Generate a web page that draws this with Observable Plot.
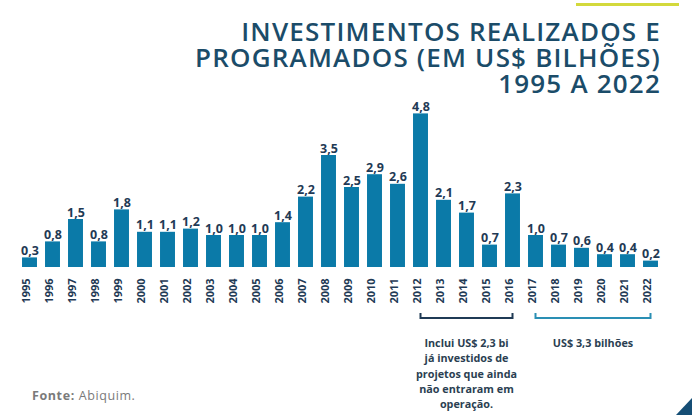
<!DOCTYPE html>
<html><head><meta charset="utf-8">
<script src="https://cdn.jsdelivr.net/npm/d3@7"></script>
<script src="https://cdn.jsdelivr.net/npm/@observablehq/plot@0.6"></script>
<style>
body{margin:0;background:#fff;}
#wrap{position:relative;width:692px;height:415px;overflow:hidden;font-family:"Open Sans",sans-serif;}
.tl{position:absolute;right:31px;text-align:right;color:#1b4c69;font-family:"Open Sans",sans-serif;font-size:26px;line-height:25px;height:25px;font-weight:600;letter-spacing:1.2px;white-space:nowrap;}
#bar{position:absolute;left:576px;top:3px;width:103px;height:3px;background:#d3d93c;}
#fonte{position:absolute;left:32px;top:388px;font-size:12.5px;line-height:15px;color:#7a7a7a;letter-spacing:0.6px;}
#tri{position:absolute;left:0;top:0;}
#chart{position:absolute;left:0;top:0;}
</style></head>
<body><div id="wrap">
<div id="chart"></div>
<div id="bar"></div>
<div class="tl" style="top:19px">INVESTIMENTOS REALIZADOS E</div>
<div class="tl" style="top:45px">PROGRAMADOS (EM US$ BILHÕES)</div>
<div class="tl" style="top:71px">1995 A 2022</div>
<div id="fonte"><b>Fonte:</b> Abiquim.</div>
<svg id="tri" width="692" height="415"><polygon points="676,415 692,398 692,415" fill="#154e75"/></svg>
</div>
<script>
const years = [1995,1996,1997,1998,1999,2000,2001,2002,2003,2004,2005,2006,2007,2008,2009,2010,2011,2012,2013,2014,2015,2016,2017,2018,2019,2020,2021,2022];
const values = [0.3,0.8,1.5,0.8,1.8,1.1,1.1,1.2,1.0,1.0,1.0,1.4,2.2,3.5,2.5,2.9,2.6,4.8,2.1,1.7,0.7,2.3,1.0,0.7,0.6,0.4,0.4,0.2];
const bracketFrom = [2012, 2017];
const bracketTo = [2016, 2022];
const bracketColors = ["#1f3a55", "#2a8fb4"];
const bracketLabels = [
  ["Inclui US$ 2,3 bi","já investidos de","projetos que ainda","não entraram em","operação."],
  ["US$ 3,3 bilhões"]
];

const data = years.map((y,i)=>({year:y, value:values[i]}));
const fmt = v => v.toFixed(1).replace(".", ",");
const half = 0.325;

const brackets = (index, scales, vals, dims) => {
  const ns = "http://www.w3.org/2000/svg";
  const g = document.createElementNS(ns, "g");
  const y0 = scales.y(0);
  bracketFrom.forEach((f,i) => {
    const xa = scales.x(f), xb = scales.x(bracketTo[i]);
    const top = y0 + 46, bot = y0 + 51;
    const p = document.createElementNS(ns, "path");
    p.setAttribute("d", `M${xa},${top}V${bot}H${xb}V${top}`);
    p.setAttribute("fill","none");
    p.setAttribute("stroke", bracketColors[i]);
    p.setAttribute("stroke-width", 2);
    g.appendChild(p);
    const cx = (xa+xb)/2;
    bracketLabels[i].forEach((line,j) => {
      const t = document.createElementNS(ns, "text");
      t.setAttribute("x", cx);
      t.setAttribute("y", y0 + 80 + j*15.3);
      t.setAttribute("text-anchor","middle");
      t.setAttribute("font-size", 10.8);
      t.setAttribute("font-weight", "bold");
      t.setAttribute("fill", "#2b3f52");
      t.setAttribute("font-family", "Open Sans, sans-serif");
      t.textContent = line;
      g.appendChild(t);
    });
  });
  return g;
};

const chart = Plot.plot({
  width: 692,
  height: 415,
  marginLeft: 18,
  marginRight: 30,
  marginTop: 107,
  marginBottom: 148,
  x: {domain: [1994.5, 2022.5], axis: null},
  y: {domain: [0, 5], axis: null},
  style: {fontFamily: "Open Sans, sans-serif", background: "transparent"},
  marks: [
    Plot.rectY(data, {x1: d => d.year - half, x2: d => d.year + half, y: "value", fill: "#0b7aa8"}),
    Plot.text(data, {x: "year", y: "value", text: d => fmt(d.value), lineAnchor: "bottom", dy: -3, fontSize: 12.5, fontWeight: "bold", fill: "#1f3a55"}),
    Plot.text(years, {x: d => d, frameAnchor: "bottom", dy: 36, rotate: -90, textAnchor: "start", text: d => String(d), fontSize: 11, fontWeight: "bold", fill: "#1f3a55"}),
    brackets
  ]
});
document.getElementById("chart").appendChild(chart);
</script>
</body></html>
